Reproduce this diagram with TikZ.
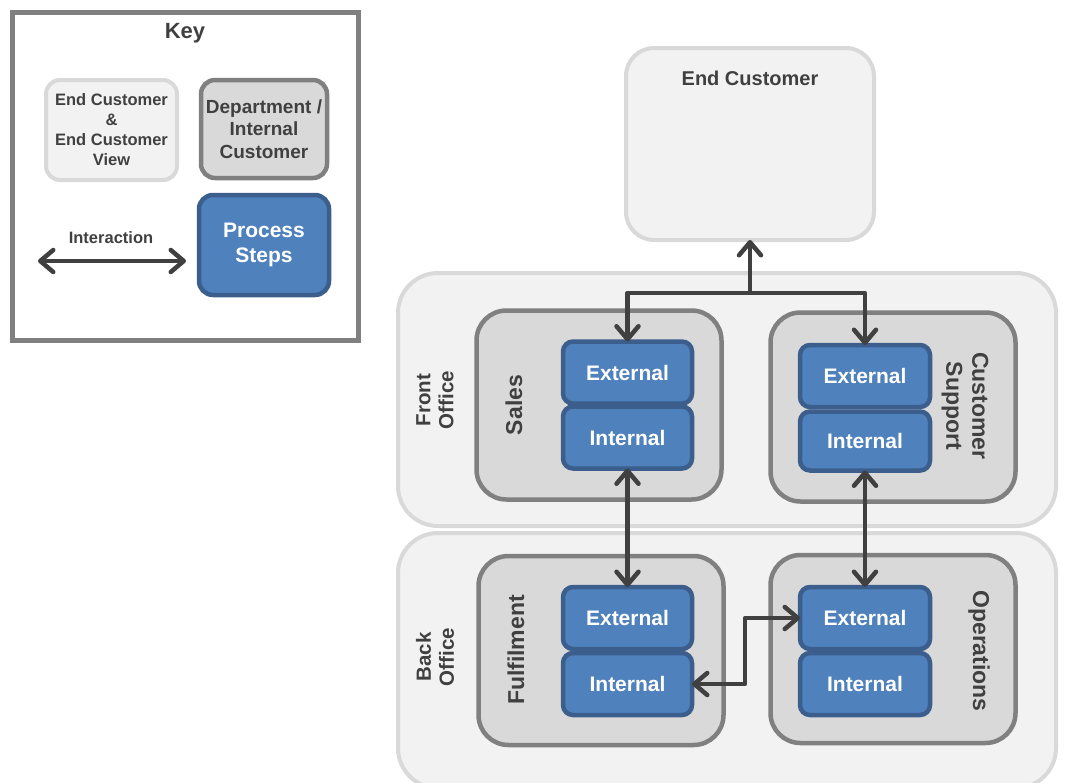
\documentclass[tikz,border=0pt]{standalone}
\usepackage{fontspec}
\setmainfont{Liberation Sans}
\usetikzlibrary{arrows.meta}
\definecolor{txt}{HTML}{404040}
\definecolor{lightfill}{HTML}{F2F2F2}
\definecolor{lightline}{HTML}{D9D9D9}
\definecolor{deptfill}{HTML}{D9D9D9}
\definecolor{deptline}{HTML}{808080}
\definecolor{procfill}{HTML}{4F81BD}
\definecolor{procline}{HTML}{3B5E8C}
\newcommand{\fs}[2]{\bfseries\fontsize{#1}{#2}\selectfont}
\begin{document}
\begin{tikzpicture}[x=1pt,y=-1pt,
  every node/.style={inner sep=0pt, outer sep=0pt, text=txt},
  light/.style={draw=lightline, fill=lightfill, line width=4pt},
  dept/.style={draw=deptline, fill=deptfill, line width=4.5pt, rounded corners=30pt,
    minimum width=245pt, minimum height=189pt},
  proc/.style={draw=procline, fill=procfill, line width=4.5pt, rounded corners=10pt,
    minimum width=129pt, minimum height=62pt, text=white, font=\fs{21}{25}},
  deptlabel/.style={align=center, font=\fs{23}{26}},
  officelabel/.style={align=center, font=\fs{20.5}{23}, rotate=90},
  conn/.style={draw=txt, line width=4.5pt, line join=round,
    >={Straight Barb[length=13pt,width=22pt,line cap=round,line join=round]}}
]
\useasboundingbox (0,0) rectangle (1068,782);
\fill[white] (0,0) rectangle (1068,782);
\clip (0,0) rectangle (1068,782);

% ---------- Key ----------
\node[draw=deptline, fill=white, line width=5pt, minimum width=346pt, minimum height=328pt]
  (keyframe) at (185.5,176.5) {};
\node[font=\fs{22}{26}] (keytitle) at (185,33) {Key};
\node[light, rounded corners=14pt, minimum width=131pt, minimum height=100pt, align=center,
  font=\fs{16.5}{20}] (keyec) at (111.5,130) {End Customer\\\&\\End Customer\\View};
\node[dept, rounded corners=14pt, minimum width=126pt, minimum height=98pt, align=center,
  font=\fs{19}{22.5}] (keydept) at (264,129) {Department /\\Internal\\Customer};
\node[proc, rounded corners=14pt, minimum width=130pt, minimum height=100pt, align=center,
  font=\fs{21}{25}] (keyproc) at (264,245) {\raisebox{-3pt}{\parbox{120pt}{\centering Process\\Steps}}};
\coordinate (ia) at (38,261);
\coordinate (ib) at (186,261);
\draw[conn,<->] (ia) -- (ib);
\node[font=\fs{16.5}{20}] (interaction) at (111,238) {Interaction};

% ---------- End customer ----------
\node[light, rounded corners=28pt, minimum width=248pt, minimum height=192pt] (ec) at (750,144) {};
\node[font=\fs{20}{24}] (ectitle) at (750,78) {End Customer};

% ---------- Offices ----------
\node[light, rounded corners=40pt, minimum width=658pt, minimum height=253pt] (front) at (727,399.5) {};
\node[light, rounded corners=40pt, minimum width=658pt, minimum height=255pt] (back) at (727,660.5) {};
\node[officelabel] (frontlbl) at (435,400) {Front\\Office};
\node[officelabel] (backlbl) at (435,657) {Back\\Office};

% ---------- Departments ----------
\node[dept] (sales) at (599,405) {};
\node[dept] (cs) at (893,407) {};
\node[dept] (ful) at (601,650.5) {};
\node[dept, minimum height=188pt] (ops) at (893,649) {};

\node[deptlabel, rotate=90] (saleslbl) at (514,405) {Sales};
\node[deptlabel, rotate=-90] (cslbl) at (965,406) {Customer\\Support};
\node[deptlabel, rotate=90] (fullbl) at (516,650) {Fulfilment};
\node[deptlabel, rotate=-90] (opslbl) at (979,651) {Operations};

% ---------- Process steps ----------
\node[proc] (salesext) at (627.5,372.5) {External};
\node[proc] (salesint) at (627.5,437.5) {Internal};
\node[proc, minimum width=130pt] (csext) at (865,376) {External};
\node[proc, minimum width=130pt, minimum height=59pt] (csint) at (865,441) {Internal};
\node[proc] (fulext) at (627.5,618) {External};
\node[proc] (fulint) at (627.5,684) {Internal};
\node[proc, minimum width=130pt] (opsext) at (865,618) {External};
\node[proc, minimum width=130pt] (opsint) at (865,684) {Internal};

% ---------- Connectors ----------
\coordinate (junction) at (750,293);
\draw[conn,->] (junction) -- (ec.south);
\draw[conn,->] (junction) -| (salesext.north);
\draw[conn,->] (junction) -| (csext.north);
\draw[conn,<->] (salesint.south) -- (fulext.north);
\draw[conn,<->] (csint.south) -- (opsext.north);
\draw[conn,<->] (fulint.east) -- ++(53,0) |- (opsext.west);
\end{tikzpicture}
\end{document}
